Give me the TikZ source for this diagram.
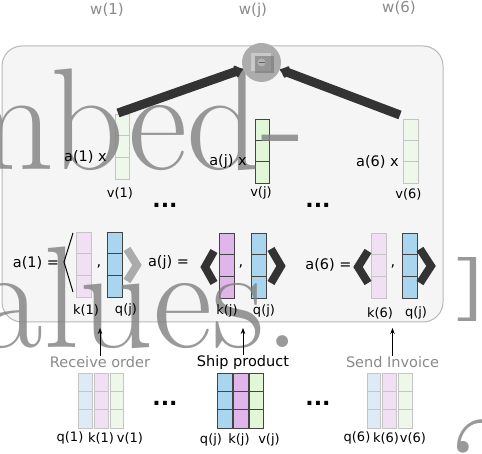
\documentclass[tikz,border=0pt]{standalone}
\usepackage{fontspec}
\newfontfamily\dv{DejaVu Sans}
\usetikzlibrary{arrows.meta,calc}
\definecolor{vS}{HTML}{E1F7D8}
\definecolor{vF}{HTML}{EFF7EB}
\definecolor{kS}{HTML}{E0B6EA}
\definecolor{kF}{HTML}{F1DFF3}
\definecolor{qS}{HTML}{A9D5EE}
\definecolor{qF}{HTML}{DEEAF5}
\definecolor{edS}{HTML}{444444}
\definecolor{edF}{HTML}{C4C4C4}
\definecolor{greytxt}{HTML}{8A8A8A}
\definecolor{panelfill}{HTML}{F5F5F5}
\definecolor{panelline}{HTML}{B8B8B8}
\definecolor{darkline}{HTML}{333333}
\newcommand\mkcell[6]{%
  \node[cellbox,#6,minimum width=#4pt,minimum height=#5pt,anchor=north west] (#1) at (#2,#3) {};
  \draw[#6,fill=none] ($(#1.north west)!1/3!(#1.south west)$) -- ($(#1.north east)!1/3!(#1.south east)$);
  \draw[#6,fill=none] ($(#1.north west)!2/3!(#1.south west)$) -- ($(#1.north east)!2/3!(#1.south east)$);
}
\begin{document}
\begin{tikzpicture}[x=1pt,y=-1pt,
  cellbox/.style={inner sep=0pt,outer sep=0pt,line width=0.8pt},
  vstrong/.style={fill=vS,draw=edS},
  vfaint/.style={fill=vF,draw=edF},
  kstrong/.style={fill=kS,draw=edS},
  kfaint/.style={fill=kF,draw=edF},
  qstrong/.style={fill=qS,draw=edS},
  qfaint/.style={fill=qF,draw=edF},
  lbl/.style={font=\dv\fontsize{14.5}{17}\selectfont,inner sep=0pt},
  smalllbl/.style={font=\dv\fontsize{13}{15}\selectfont,inner sep=0pt},
  wlbl/.style={font=\dv\fontsize{15}{18}\selectfont,text=greytxt,inner sep=0pt},
  dotsnode/.style={font=\dv\bfseries\fontsize{22}{24}\selectfont,inner sep=0pt},
  bigtxt/.style={font=\rmfamily\fontsize{145}{145}\selectfont,text=gray,text opacity=0.8,inner sep=0pt},
  chevdark/.style={draw=darkline,line width=8pt,line join=miter},
  chevgrey/.style={draw=gray!80,line width=8pt,line join=miter,opacity=0.8},
  thickedge/.style={draw=darkline,line width=9pt,-{Latex[round,length=9pt,width=16pt]}},
  uparrow/.style={draw=black,line width=0.8pt,-{Stealth[length=6pt,width=4.5pt]}},
  panel/.style={draw=panelline,fill=panelfill,line width=1pt,rounded corners=20pt}
]
\useasboundingbox (0,0) rectangle (482,454);
\fill[white] (0,0) rectangle (482,454);

% panel
\node[panel,minimum width=441pt,minimum height=276pt,inner sep=0pt] (panel) at (222.5,184) {};

% top labels
\node[wlbl] (w1) at (107,10) {w(1)};
\node[wlbl] (wj) at (253,10) {w(j)};
\node[wlbl] (w6) at (399,8) {w(6)};

% top row value vectors
\mkcell{v1}{115}{114}{14}{65}{vfaint}
\mkcell{vj}{255}{119}{14}{64}{vstrong}
\mkcell{v6}{403}{119}{15}{64}{vfaint}

% a row
\mkcell{k1}{76}{232}{15}{65}{kfaint}
\mkcell{qa1}{107}{232}{15}{65}{qstrong}
\mkcell{kj}{219}{233}{15}{65}{kstrong}
\mkcell{qaj}{251}{233}{15}{65}{qstrong}
\mkcell{k6}{371}{233}{15}{65}{kfaint}
\mkcell{qa6}{402}{233}{15}{65}{qstrong}

% bottom groups
\mkcell{bq1}{78}{373}{14}{55}{qfaint}
\mkcell{bk1}{94}{373}{14}{55}{kfaint}
\mkcell{bv1}{110}{373}{13}{55}{vfaint}
\mkcell{bqj}{217}{373}{15}{55}{qstrong}
\mkcell{bkj}{233}{373}{15}{55}{kstrong}
\mkcell{bvj}{249}{373}{14}{55}{vstrong}
\mkcell{bq6}{367}{373}{13}{55}{qfaint}
\mkcell{bk6}{382}{373}{14}{55}{kfaint}
\mkcell{bv6}{398}{373}{14}{55}{vfaint}

% large background text
\node[bigtxt,anchor=base east] (bg1) at (305,170) {mbed-};
\node[bigtxt,anchor=base east] (bg2) at (301,348) {values.};
\node[bigtxt,font=\rmfamily\bfseries\fontsize{64}{64}\selectfont,xscale=1.8,transform shape,anchor=base west] (bg3) at (455,306) {]};
\node[bigtxt,anchor=base west] (bg4) at (451,515) {2};

% labels in top row
\node[lbl] (a1x) at (85.5,157) {a(1) x};
\node[lbl] (ajx) at (228,162) {a(j) x};
\node[lbl] (a6x) at (377.5,162) {a(6) x};
\node[smalllbl] (lv1) at (120,193) {v(1)};
\node[smalllbl] (lvj) at (261,193) {v(j)};
\node[smalllbl] (lv6) at (408.5,194) {v(6)};

% dots
\node[dotsnode] (d1) at (165,205) {...};
\node[dotsnode] (d2) at (318,205) {...};
\node[dotsnode] (d3) at (165,403) {...};
\node[dotsnode] (d4) at (318,403) {...};

% a row labels
\node[lbl] (a1eq) at (36,263) {a(1) =};
\node[lbl] (c1) at (99,266) {,};
\node[lbl] (ajeq) at (168.5,263) {a(j) =};
\node[lbl] (cj) at (241,266) {,};
\node[lbl] (a6eq) at (328.5,265) {a(6) =};
\node[lbl] (c6) at (393,266) {,};
\node[smalllbl] (lk1) at (86,310) {k(1)};
\node[smalllbl] (lq1) at (126,310) {q(j)};
\node[smalllbl] (lkj) at (227,311) {k(j)};
\node[smalllbl] (lqj) at (264,311) {q(j)};
\node[smalllbl] (lk6) at (380,313) {k(6)};
\node[smalllbl] (lq6) at (416,313) {q(j)};

% chevrons
\draw[line width=1pt,draw=black] (73,233) -- (64,262) -- (73,292);
\draw[chevgrey] (127,249) -- (137,265) -- (127,281);
\draw[chevdark] (214,251) -- (205,267) -- (214,283);
\draw[chevdark] (271,249) -- (281,266) -- (271,283);
\draw[chevdark] (368,251) -- (358,267) -- (368,283);
\draw[chevdark] (420,249) -- (431,266) -- (420,283);

% activity labels and arrows
\node[lbl,text=greytxt] (recv) at (100,362) {Receive order};
\node[lbl] (ship) at (243,362) {Ship product};
\node[lbl,text=greytxt] (send) at (392.5,362) {Send Invoice};
\coordinate (t1) at (100,328);
\coordinate (tj) at (243,328);
\coordinate (t6) at (392.5,328);
\draw[uparrow] (recv.north) -- (t1);
\draw[uparrow] (ship.north) -- (tj);
\draw[uparrow] (send.north) -- (t6);

% bottom labels
\node[smalllbl] (lbq1) at (70,438) {q(1)};
\node[smalllbl] (lbk1) at (101,438) {k(1)};
\node[smalllbl] (lbv1) at (130,438) {v(1)};
\node[smalllbl] (lbqj) at (211,440) {q(j)};
\node[smalllbl] (lbkj) at (239,440) {k(j)};
\node[smalllbl] (lbvj) at (269,440) {v(j)};
\node[smalllbl] (lbq6) at (357,438) {q(6)};
\node[smalllbl] (lbk6) at (386,438) {k(6)};
\node[smalllbl] (lbv6) at (413,438) {v(6)};

% aggregation circle
\node[circle,fill=gray!65,minimum size=39pt,inner sep=0pt] (agg) at (261.5,62.5) {};
\fill[gray!130!black!60] (251,53) rectangle (271,71);
\fill[black!55,opacity=0.6] (255,56) rectangle (274,73);
\fill[gray!60] (261.5,62.5) circle (4pt);
\draw[black!60,line width=0.8pt] (258.5,62.5) -- (264.5,62.5);

% thick edges
\coordinate (s1) at (118,113);
\coordinate (s6) at (400,115);
\draw[thickedge] (s1) -- (agg);
\draw[thickedge] (s6) -- (agg);
\end{tikzpicture}
\end{document}
